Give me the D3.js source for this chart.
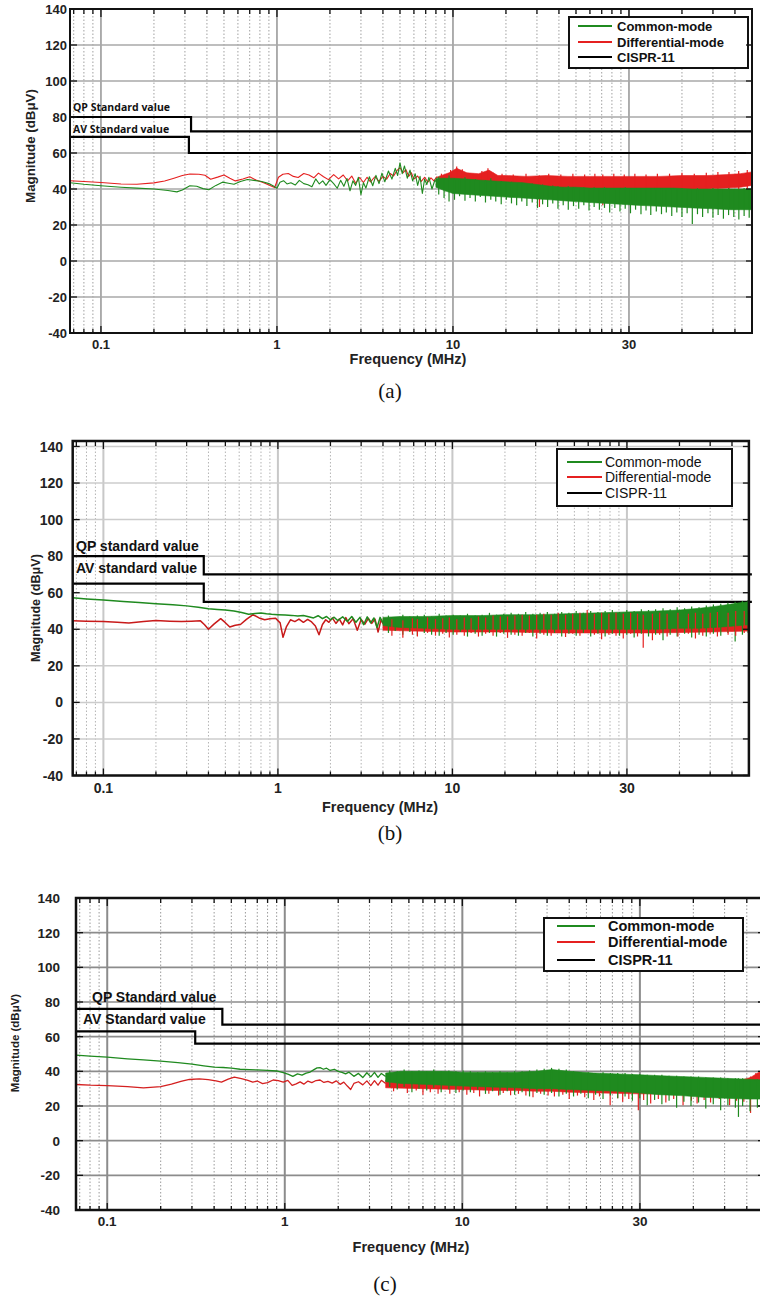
<!DOCTYPE html>
<html>
<head>
<meta charset="utf-8">
<script src="https://cdn.jsdelivr.net/npm/d3@7"></script>
<style>
  body { margin: 0; background: #fff; }
  svg { display: block; }
</style>
</head>
<body>
<svg id="fig" width="760" height="1298"></svg>
<script>
// ---------- shared axis definitions ----------
const freqDomain = [0.0667, 500];
const magTicks = [-40, -20, 0, 20, 40, 60, 80, 100, 120, 140];
const freqTicks = [0.1, 1, 10, 100];
const freqTickLabels = ["0.1", "1", "10", "30"];
const minorFreqs = [0.07, 0.08, 0.09, 0.2, 0.3, 0.4, 0.5, 0.6, 0.7, 0.8, 0.9,
                    2, 3, 4, 5, 6, 7, 8, 9, 20, 30, 40, 50, 60, 70, 80, 90, 200, 300, 400];
const seriesNames = ["Common-mode", "Differential-mode", "CISPR-11"];
const seriesColors = ["#1f8a1f", "#e52020", "#000000"];

// Each spectrum: a trace [MHz, dBuV] over the low band, an envelope [MHz, min, max]
// over the dense high band, and individual excursions [MHz, min, max].

// ---------- panel (a) ----------
const aLimitLabels = ["QP Standard value", "AV Standard value"];
const aQpLimit = [[0.0667, 80], [0.325, 72], [500, 72]];
const aAvLimit = [[0.0667, 69], [0.316, 60], [500, 60]];
const aCmTrace = [[0.0667,43.5],[0.08,42.6],[0.1,41.8],[0.13,41],[0.16,40.5],[0.2,40],[0.24,39.2],[0.27,38.4],[0.29,39.5],[0.32,41.8],[0.35,41.5],[0.38,40.2],[0.41,39.6],[0.45,42],[0.49,43.8],[0.53,43.2],[0.57,42.6],[0.62,44.2],[0.68,45.3],[0.74,44.8],[0.82,44.2],[0.9,43],[0.96,41.5],[1.0,40.4],[1.04,43.8],[1.09,44.6],[1.14,42.8],[1.2,43.5],[1.27,42.2],[1.34,44.8],[1.42,43],[1.5,42.4],[1.58,41.2],[1.66,45.6],[1.74,42.8],[1.82,44.5],[1.9,42],[2.0,45.2],[2.1,43],[2.2,40.4],[2.3,44.8],[2.4,41.5],[2.5,45.8],[2.6,39],[2.7,44.5],[2.8,42],[2.9,46.5],[3.0,36.8],[3.1,43.5],[3.2,40.5],[3.35,46.8],[3.5,41.8],[3.65,47.6],[3.8,43],[3.95,48.8],[4.1,44],[4.3,50],[4.5,45.5],[4.7,51.5],[4.85,47.5],[5.0,54.5],[5.15,48.5],[5.3,52.8],[5.5,46],[5.7,50.5],[5.9,44.5],[6.1,48.5],[6.3,42],[6.5,47],[6.7,37.5],[6.9,45.5],[7.1,42.5],[7.3,46.5],[7.6,40],[7.9,45],[8.2,43]];
const aCmBand = [[8,41,46],[9,39,46],[10,37.5,46],[12,37,45.5],[14,36.5,45],[17,36,44.5],[20,35.5,44],[25,35,43.5],[30,34.5,42.5],[36,34,41.5],[42,33.5,41],[50,33,41],[60,32.5,40.5],[75,32,40.5],[90,31.5,40.5],[110,31,40.5],[140,30.5,40.5],[180,30,40.5],[230,29.5,40],[300,29,40],[380,28.5,40],[450,28.5,40],[500,28.5,40]];
const aCmSpikes = [[8.3,37,47],[8.9,35,46],[9.5,33,47.5],[10.2,34,46],[10.9,36,45],[11.7,33.5,46.5],[12.5,35,45],[13.4,33,45.5],[14.3,35.5,44.5],[15.3,32.5,45],[16.4,34,46],[17.5,33,44],[18.8,31.5,44.5],[20.1,34,43.5],[21.5,32,44],[23,31,43],[24.6,33,43.5],[26.3,30.5,42.5],[28.2,32.5,43],[30.2,29.5,42],[32.3,31.5,42.5],[34.5,30,41.5],[36.9,32,42],[39.5,29,41.5],[42.3,31,41],[45.2,28.5,41.5],[48.4,30.5,41],[51.8,29,40.5],[55.4,31,41],[59.3,28,40.5],[63.4,30,41],[67.9,28.5,40.5],[72.6,29.5,41],[77.7,27,40.5],[83.1,29.5,40],[88.9,27.5,40.5],[95.2,29,41],[102,26.5,40.5],[109,28.5,40],[117,26,40.5],[125,28,40],[133,25.5,40.5],[143,27.5,40],[153,26,40.5],[163,27,40],[175,25,40.5],[187,27,40],[200,24.5,40.5],[214,26.5,40],[229,20.5,40],[245,26,40.5],[262,24.5,40],[281,26.5,40],[300,24,40.5],[321,25.5,40],[344,23.5,40],[368,25.5,40.5],[394,24.5,40],[421,23,40],[451,25,40.5],[482,24,40]];
const aDmTrace = [[0.0667,44.6],[0.08,44.2],[0.1,43.6],[0.13,42.8],[0.16,42.6],[0.2,43.4],[0.23,44.4],[0.26,46],[0.29,47.5],[0.32,48.3],[0.36,48.2],[0.39,47.6],[0.42,45.4],[0.46,46.6],[0.5,47.8],[0.54,46],[0.58,44.5],[0.64,45.6],[0.7,46.8],[0.76,45],[0.84,43.5],[0.92,41.8],[0.97,40.8],[1.02,46.5],[1.08,48.2],[1.16,48.6],[1.24,47],[1.32,46.4],[1.42,48.6],[1.52,47.8],[1.62,46.2],[1.72,48.8],[1.84,46.8],[1.96,45.2],[2.1,48],[2.24,45.6],[2.38,47.8],[2.52,44.5],[2.66,47.2],[2.8,43.2],[2.95,46.4],[3.1,43.6],[3.25,46.5],[3.4,44],[3.6,46.8],[3.8,44.2],[4.0,47],[4.2,45.5],[4.4,48.6],[4.6,47.2],[4.8,50.2],[5.0,51.8],[5.2,49],[5.4,50.8],[5.6,47],[5.8,49],[6.0,45.5],[6.3,47.2],[6.6,44.2],[6.9,46.5],[7.2,43.8],[7.5,46.2],[7.8,44.5],[8.1,46.8],[8.5,45.2]];
const aDmBand = [[8.3,43,47],[9.5,43,49],[10.5,44,51.5],[12,43,49],[14,42,48.5],[16,43,50.5],[18,41,47.5],[20,40,47.5],[26,40,47],[34,40,47.5],[45,40,47],[60,40,47],[80,40,47],[100,40,47],[150,40,47],[200,40,47.5],[280,40,47.5],[360,40.5,48],[430,41,48.5],[500,42,49.5]];
const aDmSpikes = [[8.6,42,48.5],[9.7,41,50.5],[10.5,42,52.5],[11.3,41,51],[13,40,48.5],[14.6,41,50],[15.8,41,51.5],[17,40,49],[19,39,48.5],[22,38,48],[26,39,48.5],[31,30,47.5],[35,38,48.5],[41,39,48],[48,38,48.5],[56,39,48],[64,38,48.5],[71,31,48],[82,38,48.5],[94,39,48],[108,38,48.5],[125,39,48],[145,38,48.5],[170,39,48.5],[200,38,49],[235,39,48.5],[275,38,49],[320,39,49.5],[370,38,49.5],[420,39,50],[470,39,50.5]];

// ---------- panel (b) ----------
const bLimitLabels = ["QP standard value", "AV standard value"];
const bQpLimit = [[0.0667, 80], [0.376, 70], [520, 70]];
const bAvLimit = [[0.0667, 65], [0.376, 55], [520, 55]];
const bCmTrace = [[0.0667,57.2],[0.08,56.6],[0.1,56],[0.13,55.2],[0.16,54.6],[0.2,54],[0.25,53.4],[0.3,52.8],[0.35,52],[0.4,51.2],[0.45,50.8],[0.5,50.5],[0.56,50],[0.62,49.2],[0.68,48.2],[0.74,48.6],[0.8,48.9],[0.86,48.5],[0.92,48.2],[1.0,48],[1.1,47.8],[1.2,47.6],[1.3,47.2],[1.4,47.5],[1.5,46.8],[1.6,46.2],[1.7,47.4],[1.8,45.8],[1.9,47],[2.0,45.2],[2.1,46.6],[2.2,44.8],[2.35,46.8],[2.5,44.2],[2.65,47],[2.8,43.8],[2.95,46.5],[3.1,42.5],[3.25,46.8],[3.4,43.5],[3.55,46.2],[3.7,41],[3.85,46.5],[4.0,43.5]];
const bCmBand = [[4,42,46.5],[5,41,47],[7,40.5,47],[10,40,47.5],[15,40,47.5],[20,40,48],[30,40,48],[45,40,48.5],[70,40,49],[100,40,49.5],[150,40,50],[200,40.5,50.5],[260,40.5,51.5],[320,41,52.5],[380,41.5,53.5],[440,42,54.5],[500,42.5,55]];
const bCmSpikes = [[4.3,38,47.5],[4.7,39,46.5],[5.2,37,48],[5.7,38.5,47],[6.3,36.5,47.5],[6.9,38,48],[7.6,37,47],[8.4,36.5,48.5],[9.2,38,47.5],[10.1,37,48],[11.1,38.5,47.5],[12.2,36,48.5],[13.5,37.5,47.5],[14.8,36.5,48],[16.3,38,49],[17.9,36,48],[19.7,37.5,48.5],[21.7,37,49],[23.9,36.5,48.5],[26.3,38,49.5],[28.9,36,48.5],[31.8,37.5,49],[35,36.5,49.5],[38.5,38,48.5],[42.3,36,49.5],[46.5,37.5,49],[51.2,36.5,50],[56.3,38,49],[62,36,50],[68.2,37.5,49.5],[75,36,50],[82.5,37.5,50.5],[90.7,36.5,49.5],[99.8,37,50.5],[110,35.5,50],[121,37.5,51],[133,36,50.5],[146,37,51],[161,34,51.5],[177,37,51],[194,36,52],[214,37.5,51.5],[235,35.5,52.5],[259,37,52],[285,36,53],[313,37.5,53.5],[345,36.5,54],[379,38,54.5],[417,33.3,55],[459,37,55.5],[495,38,56]];
const bDmTrace = [[0.0667,44.6],[0.08,44.4],[0.1,44.2],[0.12,43.8],[0.14,43.4],[0.17,44.2],[0.2,44.8],[0.24,44.4],[0.28,44.2],[0.32,44.4],[0.36,44.6],[0.38,42.5],[0.4,40],[0.43,42.8],[0.47,45.8],[0.5,43.6],[0.53,41.2],[0.57,42.2],[0.61,42.6],[0.66,45.4],[0.72,48],[0.78,46.2],[0.84,45.2],[0.9,45.8],[0.97,46],[1.03,43.5],[1.07,35.6],[1.12,41.5],[1.18,45.2],[1.25,44.2],[1.32,45.6],[1.4,43.8],[1.48,45.4],[1.56,44],[1.64,41.8],[1.72,37],[1.8,42.6],[1.88,45.2],[1.96,43.8],[2.05,46.2],[2.15,43.2],[2.25,45.6],[2.35,42.4],[2.45,46.4],[2.55,43],[2.7,45.8],[2.85,39.5],[3.0,45.4],[3.15,42.8],[3.3,46],[3.45,43.2],[3.6,45.6],[3.75,38.5],[3.9,45.2],[4.0,43]];
const bDmBand = [[4,39.5,46],[6,39,46],[10,38.5,46.5],[20,38.5,47],[40,38,47.5],[80,38,47.5],[150,38,48],[300,38.5,48.5],[500,39,49.5]];
const bDmSpikes = [[4.5,36.5,45.5],[5.2,35.3,45],[5.9,37,46],[6.3,36,45.5],[7.2,38,46.5],[8,36.5,45.5],[8.8,37.5,46],[9.6,35.5,46.5],[10.6,37,45.5],[11.7,36.5,46.5],[12.8,38,46],[14.1,36,47],[15.5,37.5,46.5],[17.1,36.5,47.5],[18.8,38,47],[20.7,35.3,47],[22.8,37,47.5],[25.1,36.5,48],[27.6,38,47.5],[30.4,35,48],[33.4,37,48.5],[36.8,36.5,48],[40.4,38,49],[44.5,35.8,48],[48.9,37.5,48.5],[53.8,36.5,49],[59.2,38,50.5],[65.1,37,48.5],[71.6,34.5,49],[78.8,37,48.5],[86.6,36.5,49],[95.3,35,48.5],[105,37.5,49],[115,36,48.5],[124,29.9,48],[140,34,48.5],[154,37,49],[170,36,48.5],[196,36,49],[225,37.5,48.5],[247,35,49],[272,36.5,48.5],[300,37.5,49],[330,36,49.5],[380,37,49],[420,36.5,50],[470,38,50]];

// ---------- panel (c) ----------
const cLimitLabels = ["QP Standard value", "AV Standard value"];
const cQpLimit = [[0.0667, 76], [0.445, 67], [500, 67]];
const cAvLimit = [[0.0667, 63], [0.313, 56], [500, 56]];
const cCmTrace = [[0.0667,49.3],[0.08,48.8],[0.1,48.2],[0.13,47.2],[0.16,46.6],[0.2,45.9],[0.25,45],[0.3,44.2],[0.35,43.2],[0.4,42.4],[0.45,42.2],[0.5,41.8],[0.56,41.2],[0.63,41],[0.7,40.8],[0.8,40.6],[0.9,40.2],[0.98,39.2],[1.05,38.2],[1.11,37.1],[1.18,38.5],[1.25,37.8],[1.32,39],[1.39,39.6],[1.46,41],[1.52,42],[1.58,42.1],[1.65,41.2],[1.72,41.8],[1.8,40.5],[1.9,41.2],[2.0,40],[2.1,39.4],[2.2,38.5],[2.3,39.5],[2.45,37.1],[2.6,38.8],[2.75,36.4],[2.9,39.2],[3.05,36.8],[3.2,39.4],[3.35,36.5],[3.5,38.8],[3.7,37]];
const cCmBand = [[3.7,34,39],[4.5,33,40],[6,32.5,40],[8,32,40],[10,31.5,39.5],[14,31,39.5],[20,30.5,39.5],[26,30,40],[32,30,41],[40,29.5,40],[55,29,39],[75,28.5,38.5],[100,27.5,38],[130,26.5,37.5],[170,26,37],[230,25,36.5],[300,24.5,36],[400,24,35.5],[500,24,35]];
const cCmSpikes = [[3.9,31,40.5],[4.3,29.5,40],[4.7,31,41],[5.2,28,40],[5.7,30,40.5],[6.3,29,40],[6.9,30.5,41],[7.6,28,40],[8.4,29.5,40.5],[9.2,27.5,40],[10.1,29,40.5],[11.1,28,40],[12.2,29.5,39.5],[13.5,27,40],[14.8,28.5,39.5],[16.3,26.5,40],[17.9,28.5,39.5],[19.7,26.5,40],[21.7,28,40],[23.9,25.5,40.5],[26.3,27.5,41],[28.9,26.5,41.5],[31.8,27.5,42],[35,25.5,41.5],[38.5,27,41],[42.3,25.5,40],[46.5,27,39.5],[51.2,24.5,39.5],[56.3,26.5,39],[62,24,39.5],[68.2,26,39],[75,24.5,39],[82.5,25.5,39],[90.7,23,38.5],[99.8,24.5,38.5],[110,20.5,38],[121,23.5,38],[133,21,38],[146,23,37.5],[161,19,37.5],[177,22.5,37],[194,20,37],[214,22,37],[235,18.5,36.5],[259,21,36.5],[285,17.5,36.5],[313,20.5,36],[345,19,36],[359,13.7,36],[379,20,36],[417,17,35.5],[459,19,35.5],[495,20.5,35]];
const cDmTrace = [[0.0667,32.4],[0.08,32],[0.1,31.8],[0.13,31.2],[0.16,30.5],[0.2,31.2],[0.23,32.6],[0.26,34.2],[0.29,35.3],[0.33,35.6],[0.37,35.2],[0.41,34.5],[0.44,33.8],[0.48,35.5],[0.52,36.7],[0.57,35.8],[0.62,34.8],[0.66,33.8],[0.7,34.4],[0.75,32.9],[0.8,33.5],[0.86,35],[0.92,34.6],[0.98,33.8],[1.04,34.8],[1.1,31.9],[1.16,32.8],[1.22,33.9],[1.28,32.6],[1.35,34.4],[1.42,33.5],[1.5,34.7],[1.58,35],[1.66,33.6],[1.75,34.2],[1.85,33.2],[1.95,34.5],[2.05,32.5],[2.15,33.8],[2.25,31.5],[2.35,29.5],[2.45,33],[2.6,34],[2.75,32.2],[2.9,34.5],[3.05,31.8],[3.2,34.6],[3.35,32],[3.5,34.8],[3.7,33]];
const cDmBand = [[3.7,30.5,35],[6,30,35],[10,29.5,34.5],[15,29,34.5],[20,29,34.5],[26,28.5,35],[32,28.5,36],[40,28,35],[60,27.5,34],[100,27,33.5],[150,27,33],[220,27,33],[300,27.5,33.5],[360,28,34.5],[420,29,36.5],[460,30,39],[500,31,41]];
const cDmSpikes = [[4.1,28.5,35.5],[4.9,27.5,35],[5.5,29,35.5],[6,26.5,35],[6.6,28,35.5],[7.3,27,35],[8.5,27,35.5],[9.6,28,35],[10.6,26.5,35],[11.6,27.5,34.5],[12.5,25.5,35],[14.1,27,34.5],[16,26,35],[17,27.5,34.5],[18.7,26.2,35],[20.7,27,35],[22.8,26,35.5],[25,25,35],[27.6,27,36],[30.4,26,36.5],[33,25.5,36.5],[36.8,26.5,36],[40,24,35.5],[44.5,26,35],[48.9,25,35],[55,23.5,34.5],[59.2,25.5,34.5],[68,20.4,34],[75,24.5,34],[80,22.5,34],[86.6,24,33.5],[98,17.5,33.5],[105,23.5,33.5],[115,21.5,33.5],[127,24,33.5],[140,22,33],[155,24,33],[175,20.5,33],[195,23,33],[210,21.5,33],[230,23.5,33],[250,22,33.5],[280,24,33.5],[320,20.5,34],[350,23,34.5],[385,22.5,35.5],[420,16,37],[450,24,39],[480,25,41]];

// ---------- layout and style of the three panels ----------
const panels = [
  {
    id: "a", left: 70, right: 752, top: 9, bottom: 333, magTop: 140,
    cm: { trace: aCmTrace, band: aCmBand, spikes: aCmSpikes },
    dm: { trace: aDmTrace, band: aDmBand, spikes: aDmSpikes },
    qp: aQpLimit, av: aAvLimit, limitLabels: aLimitLabels,
    limitLabelPos: [[73, 111], [73, 132.5]],
    limitFont: { family: "'Open Sans', sans-serif", size: 10.5, weight: 700 },
    legend: { x: 569, y: 17, w: 179, h: 51, lineX: [9, 43], textX: 48, rowY: [9, 25, 40],
              font: { family: "'Liberation Sans', Arial, sans-serif", size: 13, weight: 700 } },
    tickFont: 13, yTickRight: 67, xTickY: 340,
    xTitle: [408, 359, 14.5], yTitle: [30, 146, 13.3],
    caption: ["(a)", 390, 390],
    grid: { h: "#a9a9a9", hw: 1.4, v: "#9a9a9a", vw: 1.6, minor: "#a0a0a0" },
    traceWidth: 1.1, dmTraceColor: "#e52020", frameWidth: 2, dmSpikesOnTop: false
  },
  {
    id: "b", left: 72.7, right: 748.9, top: 441, bottom: 775.5, magTop: 143,
    cm: { trace: bCmTrace, band: bCmBand, spikes: bCmSpikes },
    dm: { trace: bDmTrace, band: bDmBand, spikes: bDmSpikes },
    qp: bQpLimit, av: bAvLimit, limitLabels: bLimitLabels,
    limitLabelPos: [[76, 551], [76, 572.5]],
    limitFont: { family: "'Liberation Sans', Arial, sans-serif", size: 14, weight: 700 },
    legend: { x: 557, y: 449, w: 175, h: 57, lineX: [10, 45], textX: 48, rowY: [13, 28, 44],
              font: { family: "'Liberation Sans', Arial, sans-serif", size: 14, weight: 400 } },
    tickFont: 14, yTickRight: 63, xTickY: 783,
    xTitle: [380, 807, 14.4], yTitle: [35, 608, 12.6],
    caption: ["(b)", 390, 832],
    grid: { h: "#cccccc", hw: 1.5, v: "#c8c8c8", vw: 2, minor: "#b4b4b4" },
    traceWidth: 1.5, dmTraceColor: "#c81a1a", frameWidth: 2.5, dmSpikesOnTop: true
  },
  {
    id: "c", left: 76, right: 764, top: 898, bottom: 1210, magTop: 140,
    cm: { trace: cCmTrace, band: cCmBand, spikes: cCmSpikes },
    dm: { trace: cDmTrace, band: cDmBand, spikes: cDmSpikes },
    qp: cQpLimit, av: cAvLimit, limitLabels: cLimitLabels,
    limitLabelPos: [[92, 1002], [83, 1024]],
    limitFont: { family: "'Liberation Sans', Arial, sans-serif", size: 14, weight: 700 },
    legend: { x: 544, y: 918, w: 199, h: 53, lineX: [13, 51], textX: 64, rowY: [8, 24, 42],
              font: { family: "'Liberation Sans', Arial, sans-serif", size: 14.5, weight: 700 } },
    tickFont: 13.5, yTickRight: 60, xTickY: 1216,
    xTitle: [411, 1247, 14.5], yTitle: [15, 1043, 11.5],
    caption: ["(c)", 385, 1283],
    grid: { h: "#8c8c8c", hw: 1.6, v: "#8c8c8c", vw: 2, minor: "#9a9a9a" },
    traceWidth: 1.3, dmTraceColor: "#d42020", frameWidth: 2.5, dmSpikesOnTop: false
  }
];

const svg = d3.select("#fig");
svg.append("rect").attr("width", 760).attr("height", 1298).attr("fill", "#fff");
const defs = svg.append("defs");
const sansBold = "'Liberation Sans', Arial, Helvetica, sans-serif";

function drawPanel(p) {
  const g = svg.append("g").attr("class", "panel-" + p.id);
  const x = d3.scaleLog().domain(freqDomain).range([p.left, p.right]);
  const y = d3.scaleLinear().domain([-40, p.magTop]).range([p.bottom, p.top]);

  defs.append("clipPath").attr("id", "plot-" + p.id)
    .append("rect").attr("x", p.left).attr("y", p.top)
    .attr("width", p.right - p.left).attr("height", p.bottom - p.top);

  // grid: dotted minor frequencies, solid decades, solid magnitude levels
  const grid = g.append("g");
  grid.selectAll("line.minor").data(minorFreqs).join("line")
    .attr("x1", d => x(d)).attr("x2", d => x(d))
    .attr("y1", p.top).attr("y2", p.bottom)
    .attr("stroke", p.grid.minor).attr("stroke-width", 1)
    .attr("stroke-dasharray", "1.5,2");
  grid.selectAll("line.major").data(freqTicks).join("line")
    .attr("x1", d => x(d)).attr("x2", d => x(d))
    .attr("y1", p.top).attr("y2", p.bottom)
    .attr("stroke", p.grid.v).attr("stroke-width", p.grid.vw);
  grid.selectAll("line.level").data(magTicks).join("line")
    .attr("x1", p.left).attr("x2", p.right)
    .attr("y1", d => y(d)).attr("y2", d => y(d))
    .attr("stroke", p.grid.h).attr("stroke-width", p.grid.hw);

  // CISPR-11 limits
  const step = d3.line().x(d => x(d[0])).y(d => y(d[1])).curve(d3.curveStepAfter);
  [p.qp, p.av].forEach(lim => {
    g.append("path").attr("d", step(lim)).attr("fill", "none")
      .attr("stroke", seriesColors[2]).attr("stroke-width", 2.2);
  });

  // measured spectra
  const data = g.append("g").attr("clip-path", `url(#plot-${p.id})`);
  const line = d3.line().x(d => x(d[0])).y(d => y(d[1]));
  const band = d3.area().x(d => x(d[0])).y0(d => y(d[1])).y1(d => y(d[2]));
  const drawBand = (s, color) => {
    data.append("path").attr("d", band(s.band)).attr("fill", color)
      .attr("stroke", color).attr("stroke-width", 0.6);
  };
  const drawTrace = (s, color) => {
    data.append("path").attr("d", line(s.trace)).attr("fill", "none")
      .attr("stroke", color).attr("stroke-width", p.traceWidth).attr("stroke-linejoin", "round");
  };
  const drawSpikes = (s, color) => {
    data.append("g").selectAll("line").data(s.spikes).join("line")
      .attr("x1", d => x(d[0])).attr("x2", d => x(d[0]))
      .attr("y1", d => y(d[1])).attr("y2", d => y(d[2]))
      .attr("stroke", color).attr("stroke-width", 1.2);
  };
  drawBand(p.dm, seriesColors[1]);
  drawTrace(p.dm, p.dmTraceColor);
  if (!p.dmSpikesOnTop) drawSpikes(p.dm, seriesColors[1]);
  drawBand(p.cm, seriesColors[0]);
  drawTrace(p.cm, seriesColors[0]);
  drawSpikes(p.cm, seriesColors[0]);
  if (p.dmSpikesOnTop) drawSpikes(p.dm, seriesColors[1]);

  // limit labels
  g.selectAll("text.limit").data(p.limitLabels).join("text")
    .attr("x", (d, i) => p.limitLabelPos[i][0]).attr("y", (d, i) => p.limitLabelPos[i][1])
    .attr("font-family", p.limitFont.family).attr("font-size", p.limitFont.size)
    .attr("font-weight", p.limitFont.weight).attr("fill", "#111").text(d => d);

  // legend
  const L = p.legend;
  const lg = g.append("g").attr("transform", `translate(${L.x},${L.y})`);
  lg.append("rect").attr("width", L.w).attr("height", L.h)
    .attr("fill", "#fff").attr("stroke", "#111").attr("stroke-width", 2);
  const rows = lg.selectAll("g").data(seriesNames).join("g")
    .attr("transform", (d, i) => `translate(0,${L.rowY[i]})`);
  rows.append("line").attr("x1", L.lineX[0]).attr("x2", L.lineX[1])
    .attr("stroke", (d, i) => seriesColors[i]).attr("stroke-width", 2.2);
  rows.append("text").attr("x", L.textX).attr("dy", "0.36em")
    .attr("font-family", L.font.family).attr("font-size", L.font.size)
    .attr("font-weight", L.font.weight).attr("fill", "#111").text(d => d);

  // tick marks (inward) on all four sides
  const ticks = g.append("g").attr("stroke", "#111").attr("stroke-width", 1.3);
  const tickSet = (vals, len) => vals.forEach(v => {
    ticks.append("line").attr("x1", x(v)).attr("x2", x(v)).attr("y1", p.bottom).attr("y2", p.bottom - len);
    ticks.append("line").attr("x1", x(v)).attr("x2", x(v)).attr("y1", p.top).attr("y2", p.top + len + 1);
  });
  tickSet(minorFreqs, 4);
  tickSet(freqTicks, 7);
  magTicks.forEach(v => {
    ticks.append("line").attr("x1", p.left).attr("x2", p.left + 7).attr("y1", y(v)).attr("y2", y(v));
    ticks.append("line").attr("x1", p.right).attr("x2", p.right - 6).attr("y1", y(v)).attr("y2", y(v));
  });

  // frame
  g.append("rect").attr("x", p.left).attr("y", p.top)
    .attr("width", p.right - p.left).attr("height", p.bottom - p.top)
    .attr("fill", "none").attr("stroke", "#111").attr("stroke-width", p.frameWidth);

  // tick labels
  g.selectAll("text.ylab").data(magTicks).join("text")
    .attr("x", p.yTickRight).attr("y", d => y(d)).attr("dy", "0.36em")
    .attr("text-anchor", "end").attr("font-family", sansBold)
    .attr("font-size", p.tickFont).attr("font-weight", 700).attr("fill", "#222")
    .text(d => d);
  g.selectAll("text.xlab").data(freqTicks).join("text")
    .attr("x", d => x(d)).attr("y", p.xTickY).attr("dy", "0.71em")
    .attr("text-anchor", "middle").attr("font-family", sansBold)
    .attr("font-size", p.tickFont).attr("font-weight", 700).attr("fill", "#222")
    .text((d, i) => freqTickLabels[i]);

  // axis titles and caption
  g.append("text").attr("x", p.xTitle[0]).attr("y", p.xTitle[1]).attr("dy", "0.36em")
    .attr("text-anchor", "middle").attr("font-family", sansBold)
    .attr("font-size", p.xTitle[2]).attr("font-weight", 700).attr("fill", "#222")
    .text("Frequency (MHz)");
  g.append("text")
    .attr("transform", `translate(${p.yTitle[0]},${p.yTitle[1]}) rotate(-90)`)
    .attr("dy", "0.36em").attr("text-anchor", "middle").attr("font-family", sansBold)
    .attr("font-size", p.yTitle[2]).attr("font-weight", 700).attr("fill", "#222")
    .text("Magnitude (dB\u03bcV)");
  g.append("text").attr("x", p.caption[1]).attr("y", p.caption[2]).attr("dy", "0.36em")
    .attr("text-anchor", "middle").attr("font-family", "'Liberation Serif', 'Times New Roman', serif")
    .attr("font-size", 21).attr("fill", "#111").text(p.caption[0]);
}

panels.forEach(drawPanel);
</script>
</body>
</html>
